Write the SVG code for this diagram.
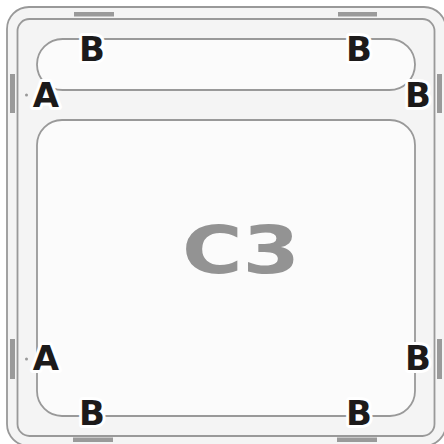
<svg xmlns="http://www.w3.org/2000/svg" width="444" height="444" viewBox="0 0 444 444">
  <style>
    .ln { fill: none; stroke: #999999; stroke-width: 1.8; }
    .bar { fill: #9a9a9a; }
    .lbl { font-family: "DejaVu Sans", "Liberation Sans", sans-serif; font-weight: bold; font-size: 34px; fill: #1c1a1a; text-anchor: middle; stroke: #ffffff; stroke-width: 6; stroke-linejoin: round; paint-order: stroke fill; }
    .dot { fill: #999999; }
  </style>
  <rect width="444" height="444" fill="#ffffff"/>
  <g id="frame">
    <rect x="7" y="7" width="439" height="439" rx="22" fill="#f4f4f4" stroke="#999999" stroke-width="1.8"/>
    <rect x="17.5" y="19" width="417" height="417" rx="12" class="ln"/>
    <rect class="bar" x="74" y="12" width="40" height="4.5"/>
    <rect class="bar" x="338" y="12" width="39" height="4.5"/>
    <rect class="bar" x="73" y="437.5" width="40" height="4.5"/>
    <rect class="bar" x="337" y="437.5" width="40" height="4.5"/>
    <rect class="bar" x="10" y="74" width="5" height="39"/>
    <rect class="bar" x="10" y="339" width="5" height="40"/>
    <rect class="bar" x="437" y="74" width="5" height="39"/>
    <rect class="bar" x="437" y="339" width="5" height="40"/>
  </g>
  <g id="connectors">
    <rect id="loop-top" x="37" y="39" width="378" height="51" rx="25.5" fill="#fbfbfb" stroke="#999999" stroke-width="1.8"/>
    <rect id="loop-main" x="37" y="120" width="378" height="296" rx="25" fill="#fbfbfb" stroke="#999999" stroke-width="1.8"/>
    <circle class="dot" cx="26.5" cy="95" r="1.5"/>
    <circle class="dot" cx="26.5" cy="359" r="1.5"/>
  </g>
  <g id="C3">
    <text x="241" y="273" font-family="DejaVu Sans, Liberation Sans, sans-serif" font-weight="bold" font-size="66" fill="#939393" text-anchor="middle" textLength="118" lengthAdjust="spacingAndGlyphs">C3</text>
  </g>
  <g id="labels">
    <g id="B-top-left"><text class="lbl" x="92" y="61">B</text></g>
    <g id="B-top-right"><text class="lbl" x="359" y="61">B</text></g>
    <g id="A-upper"><text class="lbl" x="46" y="107">A</text></g>
    <g id="B-right-upper"><text class="lbl" x="418" y="107">B</text></g>
    <g id="A-lower"><text class="lbl" x="46" y="370">A</text></g>
    <g id="B-right-lower"><text class="lbl" x="418" y="370">B</text></g>
    <g id="B-bottom-left"><text class="lbl" x="92" y="425">B</text></g>
    <g id="B-bottom-right"><text class="lbl" x="359" y="425">B</text></g>
  </g>
</svg>
